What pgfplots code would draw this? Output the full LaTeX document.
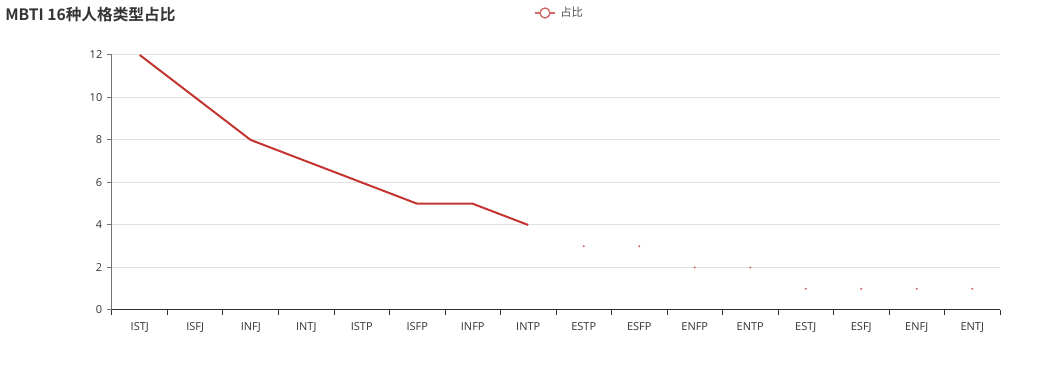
\documentclass[border=0pt]{standalone}
\usepackage{pgfplots}
\pgfplotsset{compat=1.18}
\usepackage{fontspec}
\setmainfont{Open Sans}
\newfontfamily\cjk{Noto Sans CJK SC}
\newfontfamily\cjkb{Noto Sans CJK SC Bold}
\definecolor{ser}{HTML}{C23531}
\definecolor{txt}{HTML}{333333}
\definecolor{grd}{HTML}{E0E0E0}
\begin{document}
\begin{tikzpicture}[x=0.75pt,y=0.75pt]
\path[use as bounding box] (-112,-64) rectangle (928,310);
\begin{axis}[
  at={(0,0)}, anchor=south west,
  scale only axis, width=666pt, height=191.25pt,
  xmin=-0.5, xmax=15.5, ymin=0, ymax=12,
  axis x line*=bottom, axis y line*=left,
  axis line style={txt, line width=0.75pt, -},
  y axis line style={black!55},
  xtick={0,...,15},
  xticklabels={ISTJ,ISFJ,INFJ,INTJ,ISTP,ISFP,INFP,INTP,ESTP,ESFP,ENFP,ENTP,ESTJ,ESFJ,ENFJ,ENTJ},
  minor xtick={-0.5,0.5,...,15.5},
  major x tick style={draw=none},
  minor x tick style={txt, line width=0.75pt},
  minor tick length=3.75pt,
  ytick={0,2,...,12},
  major y tick style={black!55, line width=0.75pt},
  major tick length=3.75pt,
  tick align=outside,
  ymajorgrids, grid style={grd, line width=0.75pt},
  tick label style={font=\fontsize{8.25pt}{9pt}\selectfont, text=txt},
  xticklabel style={yshift=-2pt},
  /pgf/number format/assume math mode=true,
  clip=false,
]
\addplot[ser, line width=1.5pt, mark=none] coordinates {
(0,12) (1,10) (2,8) (3,7) (4,6) (5,5) (6,5) (7,4)};
\addplot[only marks, mark=*, mark size=0.6pt, ser!70, mark options={draw=none}] coordinates {
(8,3) (9,3) (10,2) (11,2) (12,1) (13,1) (14,1) (15,1)};
\end{axis}
\node[anchor=west, text=txt, inner sep=0pt, font=\fontsize{11.75pt}{13pt}\selectfont\cjkb] at (-107,295) {MBTI 16种人格类型占比};
\draw[ser!75, line width=1pt] (423,297) -- (443,297);
\draw[ser!75, line width=1pt, fill=white] (433,297) circle (5);
\node[anchor=west, text=txt!85, inner sep=0pt, font=\fontsize{8.5pt}{10pt}\selectfont\cjk] at (448,298) {占比};
\end{tikzpicture}
\end{document}
